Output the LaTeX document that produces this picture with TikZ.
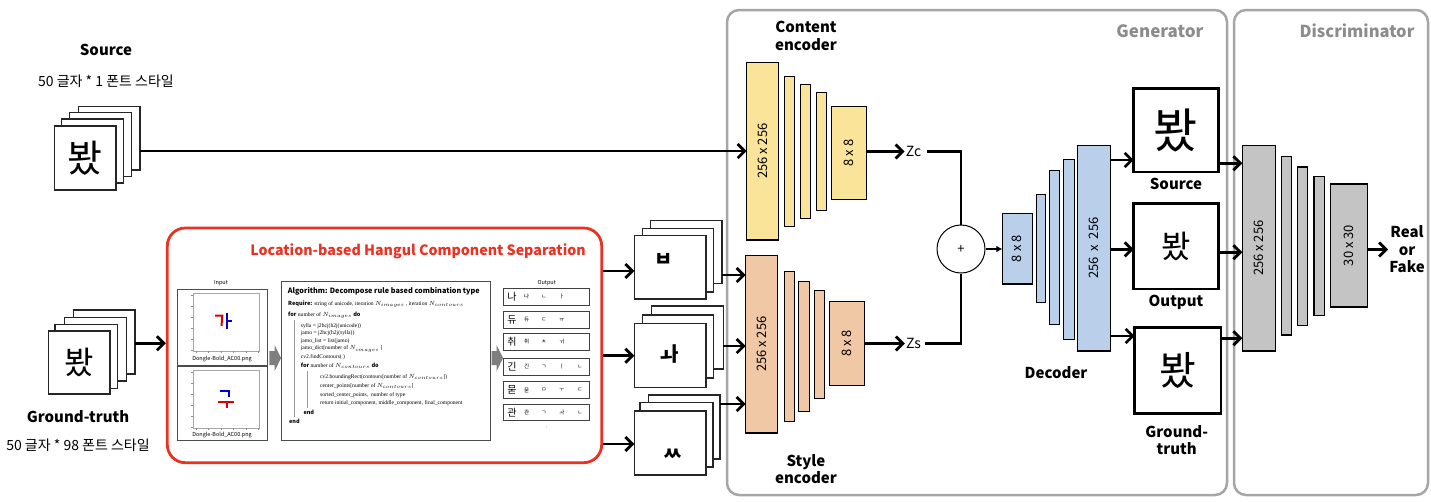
\documentclass[tikz,border=0pt]{standalone}
\usepackage{fontspec}
\setmainfont{Noto Sans CJK KR}
\newfontfamily\serif{Liberation Serif}
\usetikzlibrary{arrows.meta,fit,calc}
\definecolor{cy}{HTML}{FAE49A}
\definecolor{cp}{HTML}{F0C8A5}
\definecolor{cb}{HTML}{B9CFEA}
\definecolor{cg}{HTML}{C4C4C4}
\definecolor{pg}{HTML}{A6A6A6}
\definecolor{tg}{HTML}{8C8C8C}
\definecolor{rd}{HTML}{EB3222}
\definecolor{ag}{HTML}{7F7F7F}
\newcommand\fs[1]{\fontsize{#1}{#1}\selectfont}
\newcommand\bx[6]{\node[bx,fill=#2,fit={(#3,#4) (#5,#6)}] (#1) {};}
\newcommand\card[5]{\node[card,fit={(#2,#3) (#4,#5)}] (#1) {};}
\newcommand\Ni{$N_{\scriptscriptstyle images}$}
\newcommand\Nc{$N_{\scriptscriptstyle contours}$}
\newcommand\orow[7]{%
  \node[lrow,fit={(503.3,#2-8.3) (589,#2+8.3)}] (#1) {};
  \node[font=\fs{10},inner sep=0pt] at (512,#2) {#3};
  \node[font=\fs{5.5},inner sep=0pt] at (526.7,#2) {#4};
  \node[font=\fs{5.5},inner sep=0pt] at (544,#2) {#5};
  \node[font=\fs{5.5},inner sep=0pt] at (562,#2) {#6};
  \node[font=\fs{5.5},inner sep=0pt] at (580,#2) {#7};}
\tikzset{
  bx/.style={draw=black,line width=1.3pt,inner sep=0pt,outer sep=0pt},
  card/.style={draw=black!85,fill=white,line width=1.2pt,inner sep=0pt,outer sep=0pt},
  obox/.style={draw=black,fill=white,line width=2.8pt,inner sep=0pt,outer sep=0pt},
  panel/.style={draw=pg,line width=2.5pt,rounded corners=12pt,inner sep=0pt},
  arr/.style={line width=2.8pt,-{Straight Barb[length=7pt,width=14pt]}},
  ln/.style={line width=2.8pt},
  lbl/.style={font=\bfseries\fontsize{15}{17.5}\selectfont,align=center,inner sep=0pt},
  kr/.style={font=\fs{14},inner sep=0pt},
  rot/.style={rotate=90,font=\fs{13},inner sep=0pt},
  alg/.style={anchor=west,inner sep=0pt,font=\serif\fs{5.6}},
  lrow/.style={draw=black!75,line width=0.9pt,inner sep=0pt},
  plotp/.style={draw=black!70,line width=0.9pt,inner sep=0pt},
  axf/.style={draw=black!35,line width=0.4pt,inner sep=0pt},
  small/.style={font=\fs{5.5},inner sep=0pt},
  garr/.style={fill=ag,draw=none}
}
\begin{document}
\begin{tikzpicture}[x=1pt,y=-1pt]
\useasboundingbox (0,0) rectangle (1431,501);
\fill[white] (0,0) rectangle (1431,501);

% ---------- panels
\node[panel,fit={(727,10) (1227,495)}] (gen) {};
\node[panel,fit={(1234,10) (1428,495)}] (dis) {};
\node[font=\bfseries\fs{17},text=tg,inner sep=0pt] (gent) at (1160,31) {Generator};
\node[font=\bfseries\fs{16.5},text=tg,inner sep=0pt] (dist) at (1357,31) {Discriminator};

% ---------- source stack
\node[lbl] (srct) at (106,50) {Source};
\node[kr] (srck) at (106,81.7) {50 글자 * 1 폰트 스타일};
\card{s4}{78.3}{106.3}{140}{170}
\card{s3}{69.7}{112.7}{131.3}{176.7}
\card{s2}{61.7}{119}{123.3}{183}
\card{s1}{54.3}{126}{116}{190}
\node[font=\fs{38},inner sep=0pt] at (s1) {봤};

% ---------- ground-truth stack
\card{g4}{73.3}{310}{135}{374}
\card{g3}{64.3}{317.7}{126.7}{381}
\card{g2}{55}{324.3}{117.3}{388.3}
\card{g1}{48.3}{331}{110}{394}
\node[font=\fs{32},inner sep=0pt] at (g1) {봤};
\node[lbl] (gtt) at (78,416.7) {Ground-truth};
\node[kr] (gtk) at (78,445.7) {50 글자 * 98 폰트 스타일};

% ---------- red box
\node[draw=rd,line width=2.8pt,rounded corners=18pt,inner sep=0pt,fit={(167.3,228) (601.7,462.7)}] (red) {};
\node[font=\bfseries\fs{14.2},text=rd,inner sep=0pt] (redt) at (418,251) {Location-based Hangul Component Separation};

% input panels
\node[small] at (221,283.5) {Input};
\node[plotp,fit={(177,289) (267,365)}] (p1) {};
\node[axf,fit={(192.7,292.7) (259.3,351)}] (a1) {};
\node[small] at (222,358.7) {Dongle-Bold\_AC00.png};
\node[plotp,fit={(177,366.5) (267,440.5)}] (p2) {};
\node[axf,fit={(192.7,370) (259.3,428)}] (a2) {};
\node[small] at (222,435) {Dongle-Bold\_AC00.png};
\foreach \t in {0,1,2,3,4,5}{
  \draw[black!45,line width=0.4pt] (190.7,295+\t*11) -- (192.7,295+\t*11);
  \draw[black!45,line width=0.4pt] (190.7,372+\t*11) -- (192.7,372+\t*11);
  \draw[black!45,line width=0.4pt] (196+\t*12.5,351) -- (196+\t*12.5,353);
  \draw[black!45,line width=0.4pt] (196+\t*12.5,428) -- (196+\t*12.5,430);
}
% glyphs in plots
\draw[red!85!black,line width=2pt] (215,315.7) -- (222.3,315.7) -- (221.5,326);
\draw[blue!80!black,line width=2pt] (227.3,313) -- (227.3,328.5) (227.3,320.5) -- (231.5,320.5);
\draw[blue!80!black,line width=2pt] (220,391) -- (229.3,391) -- (229.3,397);
\draw[red!85!black,line width=2pt] (217.7,401.7) -- (234.3,401.7) (226.7,401.7) -- (226.7,408.3);

% gray arrows
\path[garr] (269.3,351) -- (274.5,351) -- (274.5,345) -- (281,358) -- (274.5,371.5) -- (274.5,365) -- (269.3,365) -- cycle;
\path[garr] (491.5,351) -- (496.5,351) -- (496.5,345) -- (503,358) -- (496.5,371.5) -- (496.5,365) -- (491.5,365) -- cycle;

% algorithm box
\node[plotp,fit={(281.7,281.7) (490,440)}] (algb) {};
\node[anchor=west,inner sep=0pt,font=\bfseries\fs{7.3}] at (287.7,291.7) {Algorithm: Decompose rule based combination type};
\node[alg] at (288,304.3) {{\rmfamily\bfseries Require:} string of unicode, iteration \Ni{} , iteration \Nc};
\node[alg] at (288,315) {{\rmfamily\bfseries for} number of \Ni{} {\rmfamily\bfseries do}};
\node[alg] at (300.7,326) {sylla = j2hcj(h2j(unicode))};
\node[alg] at (300.7,333.5) {jamo = j2hcj(h2j(sylla))};
\node[alg] at (300.7,341) {jamo\_list = list(jamo)};
\node[alg] at (300.7,349) {jamo\_dict[number of \Ni{} ]};
\node[alg] at (300.7,357.3) {cv2.findContours( )};
\node[alg] at (300.7,366) {{\rmfamily\bfseries for} number of \Nc{} {\rmfamily\bfseries do}};
\node[alg] at (320,377.3) {cv2.boundingRect(contours[number of \Nc])};
\node[alg] at (320,386) {center\_points[number of \Nc]};
\node[alg] at (320,394.7) {sorted\_center\_points,\ \ number of type};
\node[alg] at (320,403.3) {return initial\_component, middle\_component, final\_component};
\node[alg,font=\rmfamily\bfseries\fs{5.5}] at (303.3,412.7) {end};
\node[alg,font=\rmfamily\bfseries\fs{5.5}] at (289,421) {end};
\draw[black!40,line width=0.6pt] (294,320) -- (294,417);
\draw[black!40,line width=0.6pt] (307.7,371) -- (307.7,408);

% output list
\node[small] at (546.7,283.5) {Output};
\orow{r1}{296.7}{나}{나}{ㄴ}{ㅏ}{}
\orow{r2}{320}{듀}{듀}{ㄷ}{ㅠ}{}
\orow{r3}{341.7}{취}{취}{ㅊ}{ㅟ}{}
\orow{r4}{366.7}{긴}{긴}{ㄱ}{ㅣ}{ㄴ}
\orow{r5}{390}{묻}{묻}{ㅁ}{ㅜ}{ㄷ}
\orow{r6}{412.5}{관}{관}{ㄱ}{ㅘ}{ㄴ}
\node[font=\fs{5},inner sep=0pt,text=black!60] at (546.7,426.7) {:};

% ---------- component stacks
\card{c13}{650.7}{220.7}{722}{283.3}
\card{c12}{642.3}{228.3}{713.3}{292}
\card{c11}{634.3}{235.7}{706}{299}
\node[font=\bfseries\fs{20},inner sep=0pt] at (664,260) {ㅂ};
\card{c23}{651.7}{306}{723.3}{369}
\card{c22}{642.3}{315}{713.3}{378}
\card{c21}{634.3}{323.3}{706}{387.3}
\node[font=\bfseries\fs{20},inner sep=0pt] at (670,354) {ㅘ};
\card{c33}{648.3}{395}{720}{459}
\card{c32}{640}{402.7}{713}{467}
\card{c31}{634.3}{411}{706}{475}
\node[font=\bfseries\fs{20},inner sep=0pt] at (673,455) {ㅆ};

% ---------- content encoder
\node[lbl] (cet) at (806,36) {Content\\encoder};
\bx{ce1}{cy}{746.7}{62.3}{778.7}{240}
\bx{ce2}{cy}{784.7}{76.3}{794.3}{226.7}
\bx{ce3}{cy}{800.3}{84.3}{810.7}{218.3}
\bx{ce4}{cy}{816.3}{92.3}{826.3}{210.3}
\bx{ce5}{cy}{831.3}{106.3}{866.3}{199.3}
\node[rot] at (ce1) {256 x 256};
\node[rot] at (ce5) {8 x 8};

% ---------- style encoder
\bx{se1}{cp}{745.7}{255.3}{777.3}{433}
\bx{se2}{cp}{784.3}{271.3}{794.3}{421.3}
\bx{se3}{cp}{798.7}{281.3}{809.3}{411.3}
\bx{se4}{cp}{814.3}{290.3}{824.3}{398.3}
\bx{se5}{cp}{829.3}{301.3}{864.7}{385.3}
\node[rot] at (se1) {256 x 256};
\node[rot] at (se5) {8 x 8};
\node[lbl] (set) at (806,469.2) {Style\\encoder};

% ---------- latent
\node[font=\fs{14},inner sep=0pt] (zc) at (913.5,151.5) {Zc};
\node[font=\fs{14},inner sep=0pt] (zs) at (913.5,343.5) {Zs};
\node[draw=black,line width=1pt,circle,minimum size=48pt,inner sep=0pt,font=\fs{13}] (plus) at (961,249) {+};

% ---------- decoder
\bx{d1}{cb}{1002.3}{213.3}{1032.3}{284}
\bx{d2}{cb}{1036.3}{194.3}{1045.3}{302.3}
\bx{d3}{cb}{1049.3}{170.3}{1059.7}{324.3}
\bx{d4}{cb}{1063.3}{159.3}{1074.3}{339.3}
\bx{d5}{cb}{1077.3}{145.3}{1110.3}{351}
\node[rot] at (d1) {8 x 8};
\node[rot] at (d5) {256 \ x \ 256};
\node[lbl] (dect) at (1056,372.3) {Decoder};

% ---------- generated boxes
\node[obox,fit={(1133.7,88.3) (1218.3,172)}] (ob1) {};
\node[font=\fs{48},inner sep=0pt] at (ob1) {봤};
\node[lbl] at (1176,184.3) {Source};
\node[obox,fit={(1133.7,203.3) (1218.3,289)}] (ob2) {};
\node[font=\fs{32},inner sep=0pt] at (ob2) {봤};
\node[lbl] at (1176,302.7) {Output};
\node[obox,fit={(1134.7,327.7) (1221,413.7)}] (ob3) {};
\node[font=\fs{40},inner sep=0pt] at (ob3) {봤};
\node[lbl] at (1176.7,440) {Ground-\\truth};

% ---------- discriminator
\bx{q1}{cg}{1242.3}{145.3}{1275.3}{351}
\bx{q2}{cg}{1281.3}{156.3}{1291.7}{335}
\bx{q3}{cg}{1297.3}{167}{1307.3}{325.3}
\bx{q4}{cg}{1314}{176.3}{1324.7}{315.3}
\bx{q5}{cg}{1330.3}{184}{1367.3}{307}
\node[rot] at (q1) {256 x 256};
\node[rot] at (q5) {30 x 30};
\node[lbl] (rf) at (1407,249.5) {Real\\or\\Fake};

% ---------- y levels
\coordinate (ysrc) at (0,151);
\coordinate (ygt) at (0,343.3);
\coordinate (yk1) at (0,271);
\coordinate (yk2) at (0,355.7);
\coordinate (yk3) at (0,444);
\coordinate (ys1) at (0,275);
\coordinate (ys2) at (0,346);
\coordinate (ys3) at (0,404);
\coordinate (yo1) at (0,160);
\coordinate (yo2) at (0,249.3);
\coordinate (yo3) at (0,336);
\coordinate (yq1) at (0,163.3);
\coordinate (yq2) at (0,252.3);
\coordinate (yq3) at (0,338.3);

% ---------- connectors
\draw[arr] (s4.east |- ysrc) -- (ce1.west |- ysrc);
\draw[arr] (g4.east |- ygt) -- (red.west |- ygt);
\draw[arr] (red.east |- yk1) -- (c11.west |- yk1);
\draw[arr] (red.east |- yk2) -- (c21.west |- yk2);
\draw[arr] (red.east |- yk3) -- (c31.west |- yk3);
\draw[arr] (c13.east |- ys1) -- (se1.west |- ys1);
\draw[arr] (c23.east |- ys2) -- (se1.west |- ys2);
\draw[arr] (c33.east |- ys3) -- (se1.west |- ys3);
\draw[arr] (ce5.east |- zc) -- ([xshift=-1pt]zc.west);
\draw[arr] (se5.east |- zs) -- ([xshift=-1pt]zs.west);
\draw[ln] ([xshift=6pt]zc.east) -| (plus.north);
\draw[ln] ([xshift=4pt]zs.east) -| (plus.south);
\draw[line width=2pt,-{Latex[length=6pt,width=7pt]}] (plus.east) -- (d1.west |- plus);
\draw[arr] (d5.east |- yo1) -- (ob1.west |- yo1);
\draw[arr] (d5.east |- yo2) -- (ob2.west |- yo2);
\draw[arr] (d5.east |- yo3) -- (ob3.west |- yo3);
\draw[arr] (ob1.east |- yq1) -- (q1.west |- yq1);
\draw[arr] (ob2.east |- yq2) -- (q1.west |- yq2);
\draw[arr] (ob3.east |- yq3) -- (q1.west |- yq3);
\draw[arr] (q5.east |- rf) -- ([xshift=-1pt]rf.west);
\end{tikzpicture}
\end{document}
